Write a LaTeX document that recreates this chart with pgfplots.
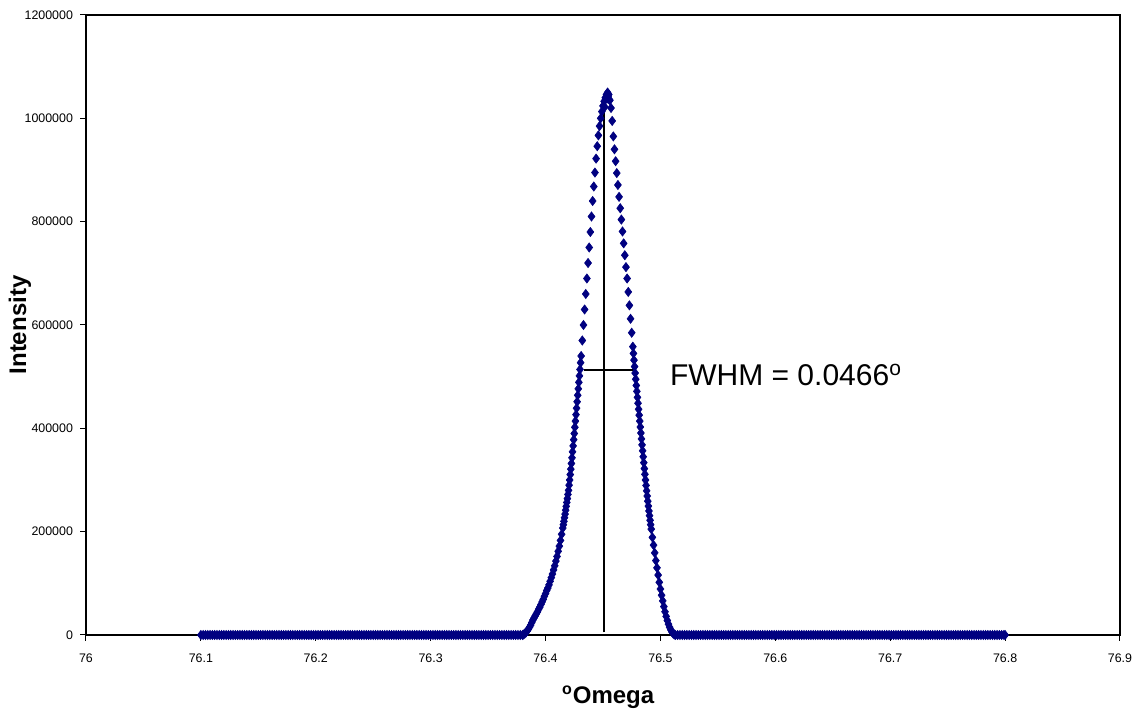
\documentclass[border=0pt]{standalone}
\usepackage{pgfplots}
\pgfplotsset{compat=1.18}
\usepackage{fontspec}
\setmainfont{Liberation Sans}
\definecolor{navy}{RGB}{0,0,128}
\begin{document}
\begin{tikzpicture}
\path[use as bounding box] (-43pt,-38pt) rectangle (524.5pt,317.5pt);
\begin{axis}[
  at={(0pt,0pt)}, anchor=south west,
  scale only axis, width=517pt, height=310pt,
  xmin=76, xmax=76.9, ymin=0, ymax=1200000,
  xtick={76,76.1,76.2,76.3,76.4,76.5,76.6,76.7,76.8,76.9},
  xticklabels={76,76.1,76.2,76.3,76.4,76.5,76.6,76.7,76.8,76.9},
  ytick={0,200000,400000,600000,800000,1000000,1200000},
  yticklabels={0,200000,400000,600000,800000,1000000,1200000},
  tick pos=left, tick align=outside, major tick length=3pt,
  tick style={black, line width=0.5pt},
  axis line style={black, line width=0.6pt},
  ticklabel style={font=\fontsize{6.2}{7}\selectfont},
  yticklabel style={inner ysep=0.5pt},
  xticklabel style={yshift=-3pt},
  xlabel={\textsuperscript{o}Omega},
  ylabel={Intensity},
  label style={font=\fontsize{12}{14}\selectfont\bfseries},
  xlabel style={at={(axis description cs:0.505,-0.1)}, anchor=center},
  ylabel style={at={(axis description cs:-0.064,0.5)}, anchor=center},
  clip=false,
]
\addplot[only marks, mark=diamond*, mark size=2.3pt, color=navy, mark options={line width=0.3pt}] coordinates {
(76.100,0)(76.102,0)(76.104,0)(76.106,0)(76.108,0)(76.110,0)(76.112,0)(76.114,0)(76.116,0)(76.118,0)
(76.120,0)(76.122,0)(76.124,0)(76.126,0)(76.128,0)(76.130,0)(76.132,0)(76.134,0)(76.136,0)(76.138,0)
(76.140,0)(76.142,0)(76.144,0)(76.146,0)(76.148,0)(76.150,0)(76.152,0)(76.154,0)(76.156,0)(76.158,0)
(76.160,0)(76.162,0)(76.164,0)(76.166,0)(76.168,0)(76.170,0)(76.172,0)(76.174,0)(76.176,0)(76.178,0)
(76.180,0)(76.182,0)(76.184,0)(76.186,0)(76.188,0)(76.190,0)(76.192,0)(76.194,0)(76.196,0)(76.198,0)
(76.200,0)(76.202,0)(76.204,0)(76.206,0)(76.208,0)(76.210,0)(76.212,0)(76.214,0)(76.216,0)(76.218,0)
(76.220,0)(76.222,0)(76.224,0)(76.226,0)(76.228,0)(76.230,0)(76.232,0)(76.234,0)(76.236,0)(76.238,0)
(76.240,0)(76.242,0)(76.244,0)(76.246,0)(76.248,0)(76.250,0)(76.252,0)(76.254,0)(76.256,0)(76.258,0)
(76.260,0)(76.262,0)(76.264,0)(76.266,0)(76.268,0)(76.270,0)(76.272,0)(76.274,0)(76.276,0)(76.278,0)
(76.280,0)(76.282,0)(76.284,0)(76.286,0)(76.288,0)(76.290,0)(76.292,0)(76.294,0)(76.296,0)(76.298,0)
(76.300,0)(76.302,0)(76.304,0)(76.306,0)(76.308,0)(76.310,0)(76.312,0)(76.314,0)(76.316,0)(76.318,0)
(76.320,0)(76.322,0)(76.324,0)(76.326,0)(76.328,0)(76.330,0)(76.332,0)(76.334,0)(76.336,0)(76.338,0)
(76.340,0)(76.342,0)(76.344,0)(76.346,0)(76.348,0)(76.350,0)(76.352,0)(76.354,0)(76.356,0)(76.358,0)
(76.360,0)(76.362,0)(76.364,0)(76.366,0)(76.368,0)(76.370,0)(76.372,0)(76.374,0)(76.376,0)(76.378,0)
(76.380,0)(76.381,1000)(76.382,3000)(76.383,5000)(76.384,8000)(76.385,11000)(76.386,15000)(76.387,19000)(76.388,24000)(76.389,29000)
(76.390,33000)(76.391,37000)(76.392,41000)(76.393,45000)(76.394,50000)(76.395,54000)(76.396,59000)(76.397,64000)(76.398,69000)(76.399,75000)
(76.400,80000)(76.401,86000)(76.402,91000)(76.403,97000)(76.404,104000)(76.405,111000)(76.406,118000)(76.407,126000)(76.408,134000)(76.409,143000)
(76.410,152000)(76.411,162000)(76.412,172000)(76.413,183000)(76.414,195000)(76.415,207000)(76.416,220000)(76.417,234000)(76.418,249000)(76.419,264000)
(76.420,280000)(76.421,300000)(76.422,321000)(76.423,343000)(76.424,366000)(76.425,390000)(76.426,414000)(76.427,439000)(76.428,464000)(76.429,489000)
(76.430,514000)(76.431,540000)(76.432,570000)(76.433,600000)(76.434,630000)(76.435,660000)(76.436,690000)(76.437,720000)(76.438,750000)(76.439,780000)
(76.440,810000)(76.441,840000)(76.442,868000)(76.443,895000)(76.444,922000)(76.445,946000)(76.446,967000)(76.447,985000)(76.448,1000000)(76.449,1013000)
(76.450,1024000)(76.451,1033000)(76.452,1040000)(76.453,1046000)(76.454,1050000)
(76.4155,213500)(76.4165,227000)(76.4175,241500)(76.4185,256500)(76.4195,272000)(76.4205,290000)(76.4215,310500)(76.4225,332000)
(76.4235,354500)(76.4245,378000)(76.4255,402000)(76.4265,426500)(76.4275,451500)(76.4285,476500)(76.4295,501500)(76.4305,527000)
(76.4515,1022000)(76.4535,1038000)(76.4545,1043000)(76.4555,1036000)
(76.455,1046000)(76.456,1035000)(76.457,1020000)(76.458,995000)(76.459,965000)(76.460,940000)(76.461,917000)(76.462,894000)(76.463,871000)(76.464,848000)
(76.465,826000)(76.466,804000)(76.467,781000)(76.468,758000)(76.469,735000)(76.470,712000)(76.471,690000)(76.472,664000)(76.473,638000)(76.474,612000)
(76.475,585000)(76.476,558000)(76.477,532000)(76.478,507000)(76.479,483000)(76.480,460000)(76.481,437000)(76.482,414000)(76.483,391000)(76.484,368000)
(76.485,345000)(76.486,322000)(76.487,300000)(76.488,279000)(76.489,259000)(76.490,240000)(76.491,222000)(76.492,205000)(76.493,189000)(76.494,174000)
(76.495,159000)(76.496,144000)(76.497,130000)(76.498,116000)(76.499,102000)(76.500,89000)(76.501,77000)(76.502,66000)(76.503,55000)(76.504,45000)
(76.505,36000)(76.506,28000)(76.507,21000)(76.508,15000)(76.509,10000)(76.510,6000)(76.511,3000)(76.512,1000)(76.513,0)
(76.4765,545000)(76.4775,519500)(76.4785,495000)(76.4795,471500)(76.4805,448500)(76.4815,425500)(76.4825,402500)(76.4835,379500)
(76.4845,356500)(76.4855,333500)(76.4865,311000)(76.4875,289500)(76.4885,269000)(76.4895,249500)(76.4905,231000)(76.4915,213500)
(76.515,0)(76.517,0)(76.519,0)(76.521,0)(76.523,0)(76.525,0)(76.527,0)(76.529,0)(76.531,0)(76.533,0)
(76.535,0)(76.537,0)(76.539,0)(76.541,0)(76.543,0)(76.545,0)(76.547,0)(76.549,0)(76.551,0)(76.553,0)
(76.555,0)(76.557,0)(76.559,0)(76.561,0)(76.563,0)(76.565,0)(76.567,0)(76.569,0)(76.571,0)(76.573,0)
(76.575,0)(76.577,0)(76.579,0)(76.581,0)(76.583,0)(76.585,0)(76.587,0)(76.589,0)(76.591,0)(76.593,0)
(76.595,0)(76.597,0)(76.599,0)(76.601,0)(76.603,0)(76.605,0)(76.607,0)(76.609,0)(76.611,0)(76.613,0)
(76.615,0)(76.617,0)(76.619,0)(76.621,0)(76.623,0)(76.625,0)(76.627,0)(76.629,0)(76.631,0)(76.633,0)
(76.635,0)(76.637,0)(76.639,0)(76.641,0)(76.643,0)(76.645,0)(76.647,0)(76.649,0)(76.651,0)(76.653,0)
(76.655,0)(76.657,0)(76.659,0)(76.661,0)(76.663,0)(76.665,0)(76.667,0)(76.669,0)(76.671,0)(76.673,0)
(76.675,0)(76.677,0)(76.679,0)(76.681,0)(76.683,0)(76.685,0)(76.687,0)(76.689,0)(76.691,0)(76.693,0)
(76.695,0)(76.697,0)(76.699,0)(76.701,0)(76.703,0)(76.705,0)(76.707,0)(76.709,0)(76.711,0)(76.713,0)
(76.715,0)(76.717,0)(76.719,0)(76.721,0)(76.723,0)(76.725,0)(76.727,0)(76.729,0)(76.731,0)(76.733,0)
(76.735,0)(76.737,0)(76.739,0)(76.741,0)(76.743,0)(76.745,0)(76.747,0)(76.749,0)(76.751,0)(76.753,0)
(76.755,0)(76.757,0)(76.759,0)(76.761,0)(76.763,0)(76.765,0)(76.767,0)(76.769,0)(76.771,0)(76.773,0)
(76.775,0)(76.777,0)(76.779,0)(76.781,0)(76.783,0)(76.785,0)(76.787,0)(76.789,0)(76.791,0)(76.793,0)
(76.795,0)(76.797,0)(76.799,0)(76.800,0)
};
\addplot[black, line width=0.75pt] coordinates {(76.4508,5000)(76.4508,1045000)};
\addplot[black, line width=0.75pt] coordinates {(76.4334,513000)(76.4787,513000)};
\node[anchor=west, inner sep=0pt, font=\fontsize{15}{18}\selectfont] at (axis cs:76.508,503000) {FWHM = 0.0466\textsuperscript{o}};
\end{axis}
\end{tikzpicture}
\end{document}
